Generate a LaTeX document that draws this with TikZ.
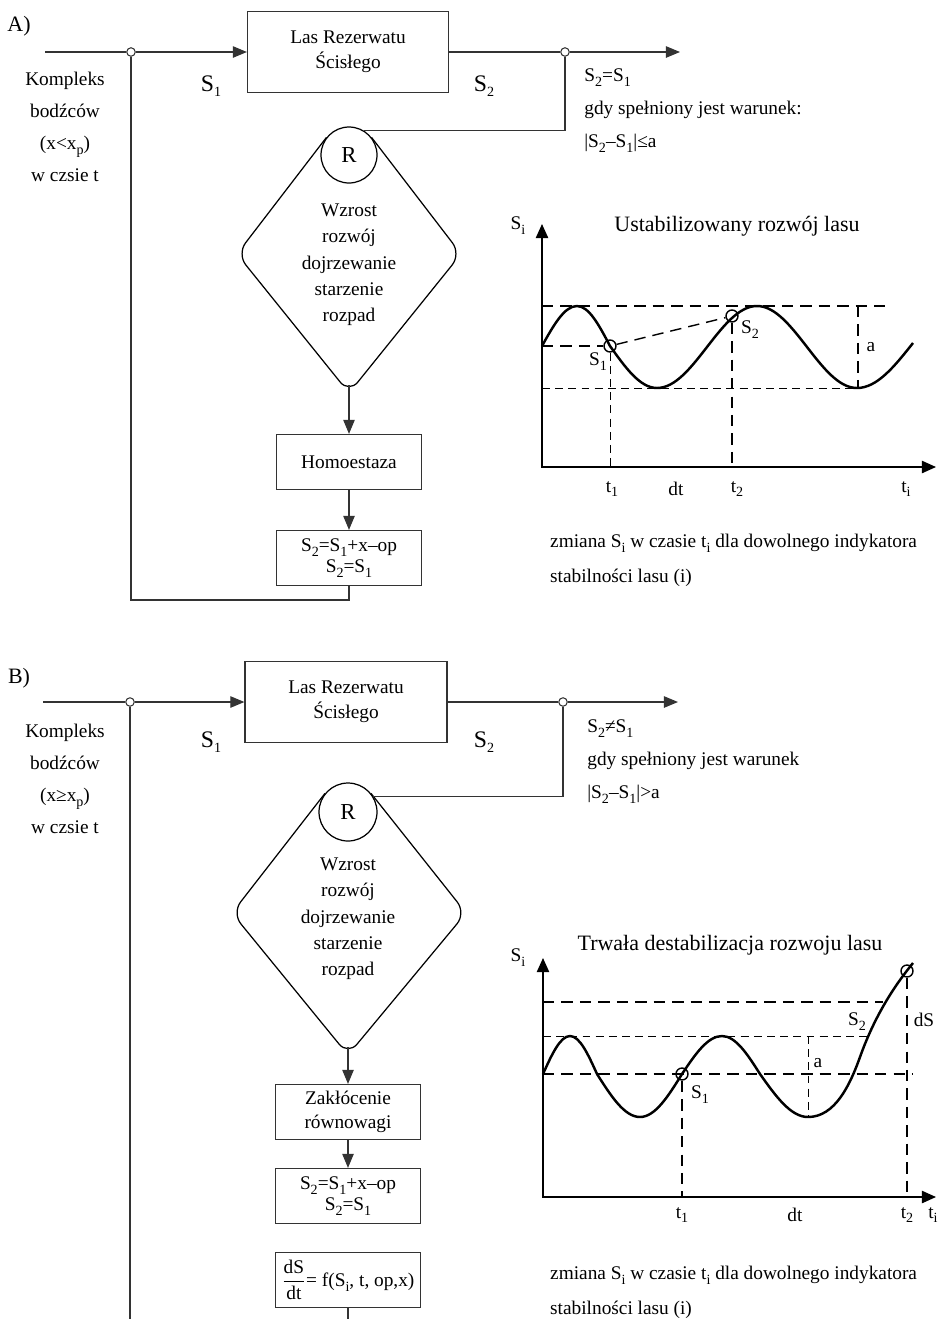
\documentclass[tikz,border=0pt]{standalone}
\usepackage{fontspec}
\setmainfont{Liberation Serif}
\usepackage{amsmath}
\usetikzlibrary{arrows.meta}
\newcommand{\dolny}[1]{\raisebox{-0.55ex}{\footnotesize #1}}

\begin{document}
\begin{tikzpicture}[x=0.02cm, y=-0.02cm, font=\fontsize{11}{14}\selectfont,
linia/.style={line width=0.7pt, draw=black!80},
strz/.style={linia, -{Triangle[length=8pt, width=6.5pt]}},
blok/.style={draw=black!80, line width=0.7pt, minimum width=2.9cm, minimum height=1.1cm, align=center, inner sep=1pt},
wezel/.style={circle, draw=black!80, line width=0.6pt, fill=white, inner sep=0pt, minimum size=0.17cm},
romb/.style={line width=0.7pt, rounded corners=8pt},
krag/.style={circle, draw, line width=0.7pt, inner sep=0pt, font=\fontsize{13}{14}\selectfont},
os/.style={line width=0.8pt, {Triangle[length=8pt, width=7pt]}-{Triangle[length=8pt, width=7pt]}},
krzywa/.style={line width=1.4pt},
gruba/.style={line width=0.8pt, dash pattern=on 6.5pt off 4pt},
cienka/.style={line width=0.5pt, dash pattern=on 4.5pt off 3pt},
punkt/.style={circle, draw, line width=0.8pt, inner sep=0pt, minimum size=0.24cm},
sygn/.style={font=\fontsize{13.5}{14}\selectfont, anchor=base},
tytul/.style={font=\fontsize{12.5}{14}\selectfont}]
\useasboundingbox (0,0) rectangle (939,1319);

\node[font=\fontsize{12.5}{14}\selectfont] (etA) at (19,26) {A)};
\coordinate (weA) at (45,52);
\node[wezel] (w1A) at (131,52) {};
\node[blok, minimum width=4.02cm, minimum height=1.62cm] (lasA) at (348,52) {Las Rezerwatu\\Ścisłego};
\node[wezel] (w2A) at (565,52) {};
\coordinate (wyA) at (680,52);
\draw[linia] (weA) -- (w1A);
\draw[strz] (w1A) -- (lasA);
\draw[linia] (lasA) -- (w2A);
\draw[strz] (w2A) -- (wyA);
\node[sygn] (s1A) at (211,91) {S\dolny{1}};
\node[sygn] (s2A) at (484,91) {S\dolny{2}};
\node[align=center, font=\fontsize{11}{18.2}\selectfont] (kA) at (65,127) {Kompleks\\bodźców\\(x<x\dolny{p})\\w czsie t};
\node[anchor=north west, align=left, inner sep=0pt, font=\fontsize{11}{18.8}\selectfont] (warA) at (584,68) {S\dolny{2}=S\dolny{1}\\gdy spełniony jest warunek:\\|S\dolny{2}–S\dolny{1}|≤a};

\node[krag, minimum size=1.12cm] (rA) at (349,155) {R};
\coordinate (prA) at (461,254);
\coordinate (dolA) at (349,393);
\coordinate (lwA) at (237,254);
\draw[romb] (rA.38) -- (prA) -- (dolA) -- (lwA) -- (rA.142);
\node[align=center, font=\fontsize{11}{15}\selectfont] (tA) at (349,265) {Wzrost\\rozwój\\dojrzewanie\\starzenie\\rozpad};
\draw[linia] (w2A) |- (rA.58);
\node[blok] (homA) at (349,462) {Homoestaza};
\node[blok, font=\fontsize{11}{12}\selectfont] (rowA) at (349,558) {S\dolny{2}=S\dolny{1}+x–op\\S\dolny{2}=S\dolny{1}};
\draw[strz] ([yshift=0.16cm]dolA) -- (homA);
\draw[strz] (homA) -- (rowA);
\coordinate (pA) at (131,600);
\draw[linia] (rowA.south) |- (pA) -- (w1A);

\draw[os] (542,224) -- (542,467) -- (936,467);
\node (siA) at (518,226) {S\dolny{i}};
\node[tytul] (tytA) at (737,226) {Ustabilizowany rozwój lasu};
\node[punkt] (p1A) at (610,346) {};
\node[punkt] (p2A) at (732,316) {};
\draw[gruba] (542,306) -- (887,306);
\draw[gruba] (542,346) -- (p1A);
\draw[gruba] (p1A) -- (p2A);
\draw[cienka] (542,388) -- (857,388);
\draw[cienka] (p1A) -- (610,467);
\draw[gruba] (p2A) -- (732,467);
\draw[gruba] (858,306) -- (858,388);
\draw[krzywa] (542,346) sin (577,306) cos (610,346) sin (657,388) cos (707,347) sin (757,306) cos (807,347) sin (857,388) cos (913,343);
\node (l1A) at (598,362) {S\dolny{1}};
\node (l2A) at (750,330) {S\dolny{2}};
\node (aA) at (871,347) {a};
\node (t1A) at (612,489) {t\dolny{1}};
\node (dtA) at (676,489) {dt};
\node (t2A) at (737,489) {t\dolny{2}};
\node (tiA) at (906,489) {t\dolny{i}};
\node[anchor=west, align=left, font=\fontsize{11}{19.9}\selectfont] (opA) at (544,560) {zmiana S\dolny{i} w czasie t\dolny{i} dla dowolnego indykatora\\stabilności lasu (i)};

\node[font=\fontsize{12.5}{14}\selectfont] (etB) at (19,678) {B)};
\coordinate (weB) at (43,702);
\node[wezel] (w1B) at (130,702) {};
\node[blok, minimum width=4.04cm, minimum height=1.62cm] (lasB) at (346,702) {Las Rezerwatu\\Ścisłego};
\node[wezel] (w2B) at (563,702) {};
\coordinate (wyB) at (678,702);
\draw[linia] (weB) -- (w1B);
\draw[strz] (w1B) -- (lasB);
\draw[linia] (lasB) -- (w2B);
\draw[strz] (w2B) -- (wyB);
\node[sygn] (s1B) at (211,747) {S\dolny{1}};
\node[sygn] (s2B) at (484,747) {S\dolny{2}};
\node[align=center, font=\fontsize{11}{18.2}\selectfont] (kB) at (65,779) {Kompleks\\bodźców\\(x≥x\dolny{p})\\w czsie t};
\node[anchor=north west, align=left, inner sep=0pt, font=\fontsize{11}{18.8}\selectfont] (warB) at (587,719) {S\dolny{2}≠S\dolny{1}\\gdy spełniony jest warunek\\|S\dolny{2}–S\dolny{1}|>a};

\node[krag, minimum size=1.16cm] (rB) at (348,812) {R};
\coordinate (prB) at (466,913);
\coordinate (dolB) at (348,1055);
\coordinate (lwB) at (232,913);
\draw[romb] (rB.39) -- (prB) -- (dolB) -- (lwB) -- (rB.141);
\node[align=center, font=\fontsize{11}{15}\selectfont] (tB) at (348,919) {Wzrost\\rozwój\\dojrzewanie\\starzenie\\rozpad};
\draw[linia] (w2B) |- (rB.31);
\node[blok] (zakB) at (348,1112) {Zakłócenie\\równowagi};
\node[blok, font=\fontsize{11}{12}\selectfont] (rowB) at (348,1196) {S\dolny{2}=S\dolny{1}+x–op\\S\dolny{2}=S\dolny{1}};
\node[blok] (dsB) at (348,1280) {\(\dfrac{\text{dS}}{\text{dt}}\)= f(S\dolny{i}, t, op,x)};
\draw[strz] ([yshift=0.16cm]dolB) -- (zakB);
\draw[strz] (zakB) -- (rowB);
\coordinate (kon1B) at (348,1319);
\coordinate (kon2B) at (130,1319);
\draw[linia] (dsB) -- (kon1B);
\draw[linia] (w1B) -- (kon2B);

\draw[os] (543,958) -- (543,1197) -- (936,1197);
\node (siB) at (518,958) {S\dolny{i}};
\node[tytul] (tytB) at (730,945) {Trwała destabilizacja rozwoju lasu};
\node[punkt] (p1B) at (682,1074) {};
\node[punkt] (p2B) at (907,971) {};
\draw[gruba] (543,1002) -- (883,1002);
\draw[cienka] (543,1036) -- (868,1036);
\draw[gruba] (543,1074) -- (913,1074);
\draw[gruba] (p1B) -- (682,1197);
\draw[gruba] (p2B) -- (907,1197);
\draw[cienka] (808,1036) -- (808,1117);
\draw[krzywa] (543,1074) sin (570,1036) cos (597,1074) sin (640,1117) cos (682,1074) sin (722,1036) cos (760,1074) sin (808,1117) .. controls (835,1117) and (850,1085) .. (860,1057) .. controls (875,1015) and (895,985) .. (913,963);
\node (l1B) at (700,1095) {S\dolny{1}};
\node (l2B) at (857,1022) {S\dolny{2}};
\node (aB) at (818,1063) {a};
\node (dSB) at (924,1020) {dS};
\node (t1B) at (682,1215) {t\dolny{1}};
\node (dtB) at (795,1215) {dt};
\node (t2B) at (907,1215) {t\dolny{2}};
\node (tiB) at (933,1215) {t\dolny{i}};
\node[anchor=west, align=left, font=\fontsize{11}{19.9}\selectfont] (opB) at (544,1292) {zmiana S\dolny{i} w czasie t\dolny{i} dla dowolnego indykatora\\stabilności lasu (i)};
\end{tikzpicture}
\end{document}
